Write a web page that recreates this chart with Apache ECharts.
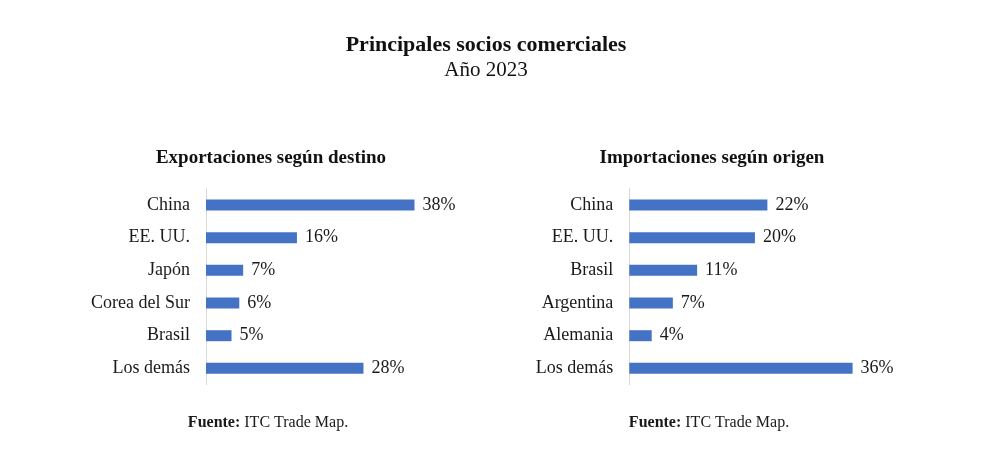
<!DOCTYPE html>
<html>
<head>
<meta charset="utf-8">
<script src="https://cdn.jsdelivr.net/npm/echarts@6/dist/echarts.min.js"></script>
<style>
html,body{margin:0;padding:0;background:#fff;}
#chart{width:1005px;height:464px;}
</style>
</head>
<body>
<div id="chart"></div>
<script>
const mainTitle = "Principales socios comerciales";
const subTitle = "Año 2023";
const exportTitle = "Exportaciones según destino";
const importTitle = "Importaciones según origen";
const sourceLabel = "Fuente:";
const sourceText = "ITC Trade Map.";

const exportCategories = ["China", "EE. UU.", "Japón", "Corea del Sur", "Brasil", "Los demás"];
const exportValues = [37.6, 16.4, 6.7, 6.0, 4.6, 28.4];

const importCategories = ["China", "EE. UU.", "Brasil", "Argentina", "Alemania", "Los demás"];
const importValues = [22.2, 20.2, 10.9, 7.0, 3.6, 35.9];

const FONT = "'Liberation Serif', 'DejaVu Serif', serif";
const BAR = "#4472C4";

const chart = echarts.init(document.getElementById('chart'), null, {renderer: 'canvas'});

function catAxis(idx, cats) {
  return {
    type: 'category', gridIndex: idx, data: cats, inverse: true,
    axisLine: {show: true, lineStyle: {color: '#d9d9d9', width: 1}},
    axisTick: {show: false},
    axisLabel: {color: '#1a1a1a', fontFamily: FONT, fontSize: 18, margin: 16}
  };
}
function valAxis(idx) {
  return {type: 'value', gridIndex: idx, min: 0, max: 40, show: false, splitLine: {show: false}};
}
function barSeries(idx, vals) {
  return {
    type: 'bar', xAxisIndex: idx, yAxisIndex: idx, data: vals, barWidth: 11,
    itemStyle: {color: BAR},
    label: {show: true, position: 'right', distance: 8, color: '#1a1a1a', fontFamily: FONT, fontSize: 18,
      formatter: p => Math.round(p.value) + '%'},
    silent: true, animation: false
  };
}
function source(x) {
  return {
    left: x, top: 410, textAlign: 'center',
    text: '{b|' + sourceLabel + '}{n| ' + sourceText + '}',
    textStyle: {fontWeight: 'normal', fontFamily: FONT, fontSize: 16, color: '#1a1a1a', rich: {
      b: {fontFamily: FONT, fontSize: 16, fontWeight: 'bold', color: '#1a1a1a'},
      n: {fontFamily: FONT, fontSize: 16, fontWeight: 'normal', color: '#1a1a1a'}
    }}
  };
}

chart.setOption({
  backgroundColor: '#fff',
  animation: false,
  title: [
    {text: mainTitle, left: 481, top: 29, textAlign: 'center',
     textStyle: {fontFamily: FONT, fontSize: 22, fontWeight: 'bold', color: '#111'}},
    {text: subTitle, left: 481, top: 55, textAlign: 'center',
     textStyle: {fontFamily: FONT, fontSize: 21, fontWeight: 'normal', color: '#111'}},
    {text: exportTitle, left: 266, top: 144, textAlign: 'center',
     textStyle: {fontFamily: FONT, fontSize: 19, fontWeight: 'bold', color: '#111'}},
    {text: importTitle, left: 707, top: 144, textAlign: 'center',
     textStyle: {fontFamily: FONT, fontSize: 19, fontWeight: 'bold', color: '#111'}},
    source(263),
    source(704)
  ],
  grid: [
    {left: 206, top: 188.7, width: 221.8, height: 196},
    {left: 629.3, top: 188.7, width: 248.8, height: 196}
  ],
  xAxis: [valAxis(0), valAxis(1)],
  yAxis: [catAxis(0, exportCategories), catAxis(1, importCategories)],
  series: [barSeries(0, exportValues), barSeries(1, importValues)]
});
</script>
</body>
</html>
